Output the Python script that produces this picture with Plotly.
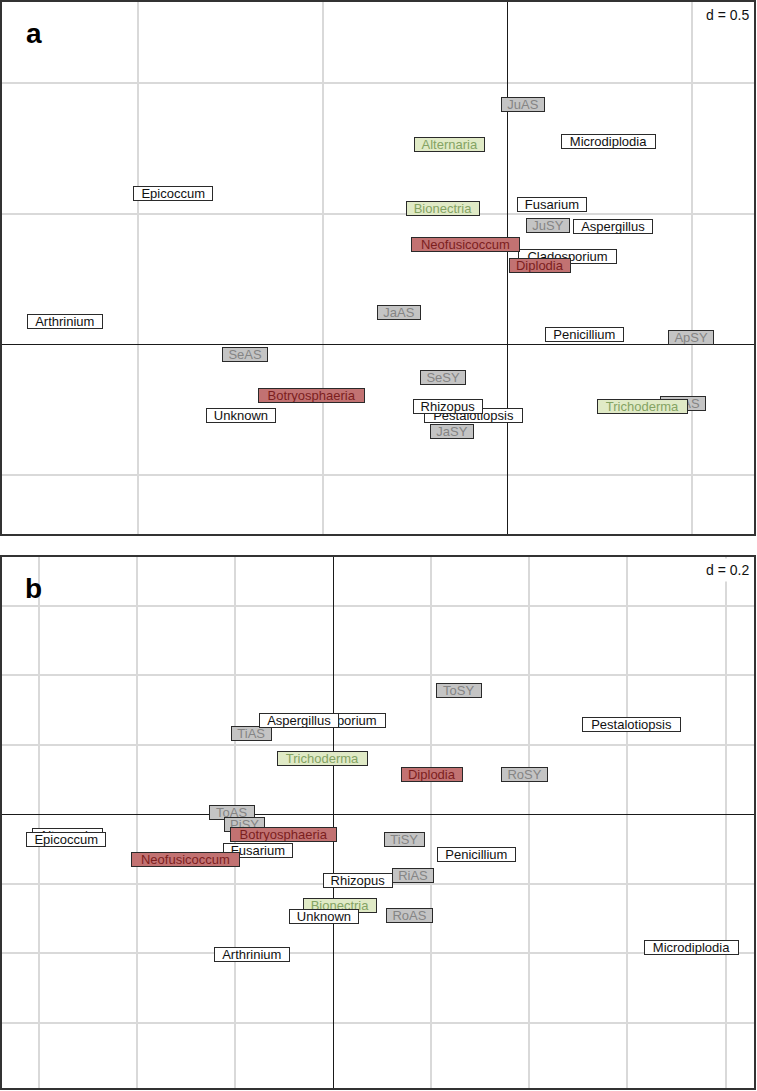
import plotly.graph_objects as go

# ---------------- Panel a (d = 0.5) ----------------
a_labels = ["JuAS", "JuSY", "JaAS", "JaSY", "SeAS", "SeSY", "ApSY", "ApAS",
            "Alternaria", "Bionectria", "Trichoderma",
            "Microdiplodia", "Epicoccum", "Fusarium", "Aspergillus", "Cladosporium",
            "Arthrinium", "Penicillium", "Unknown", "Pestalotiopsis", "Rhizopus",
            "Neofusicoccum", "Diplodia", "Botryosphaeria"]
a_x = [0.041, 0.111, -0.294, -0.150, -0.711, -0.174, 0.497, 0.477,
       -0.158, -0.174, 0.365,
       0.273, -0.905, 0.122, 0.287, 0.164,
       -1.198, 0.209, -0.722, -0.093, -0.162,
       -0.114, 0.089, -0.531]
a_y = [0.917, 0.457, 0.123, -0.332, -0.037, -0.127, 0.025, -0.228,
       0.767, 0.520, -0.239,
       0.778, 0.577, 0.537, 0.451, 0.336,
       0.088, 0.038, -0.273, -0.273, -0.239,
       0.381, 0.301, -0.195]
a_groups = ["sample"] * 8 + ["green"] * 3 + ["white"] * 10 + ["red"] * 3

# ---------------- Panel b (d = 0.2) ----------------
b_labels = ["ToSY", "TiAS", "RoSY", "ToAS", "PiSY", "TiSY", "RiAS", "RoAS",
            "Trichoderma", "Bionectria",
            "Alternaria", "Epicoccum", "Cladosporium", "Aspergillus", "Pestalotiopsis",
            "Fusarium", "Penicillium", "Rhizopus", "Unknown", "Arthrinium", "Microdiplodia",
            "Diplodia", "Botryosphaeria", "Neofusicoccum"]
b_x = [0.256, -0.166, 0.390, -0.207, -0.180, 0.145, 0.163, 0.156,
       -0.022, 0.015,
       -0.542, -0.545, 0.006, -0.069, 0.609,
       -0.152, 0.292, 0.051, -0.018, -0.165, 0.731,
       0.202, -0.101, -0.301]
b_y = [0.356, 0.232, 0.114, 0.005, -0.029, -0.072, -0.176, -0.290,
       0.162, -0.262,
       -0.060, -0.071, 0.270, 0.269, 0.259,
       -0.105, -0.116, -0.190, -0.294, -0.404, -0.384,
       0.115, -0.057, -0.130]
b_groups = ["sample"] * 8 + ["green"] * 2 + ["white"] * 11 + ["red"] * 3

STYLE = {
    "sample": dict(bg="#c4c4c4", fg="#858585"),
    "green": dict(bg="#e0eac6", fg="#84a363"),
    "white": dict(bg="#ffffff", fg="#111111"),
    "red": dict(bg="#c27272", fg="#7c1e1e"),
}

# Arial advance widths (per 1000 em) for box sizing
AW = dict(A=667, B=667, C=722, D=722, E=667, F=611, J=500, M=833, N=722, P=667,
          R=722, S=667, T=611, U=722, Y=667,
          a=556, b=556, c=500, d=556, e=556, f=278, g=556, h=556, i=222, j=222,
          k=500, l=222, m=833, n=556, o=556, p=556, q=556, r=333, s=500, t=278,
          u=556, v=500, w=722, x=500, y=500, z=500)


def box_width(txt):
    em = sum(AW.get(ch, 556) for ch in txt) / 1000.0
    return 14.6 * em + 7


W, H = 757, 1091
# panel pixel boxes (left, top, right, bottom)
PA = (2.4, 1.7, 754.0, 533.8)
PB = (2.4, 556.5, 754.0, 1088.2)


def dom(p):
    l, t, r, b = p
    return [l / W, r / W], [1 - b / H, 1 - t / H]

fig = go.Figure()
fig.add_trace(go.Scatter(x=a_x, y=a_y, mode="markers", marker=dict(size=1, opacity=0),
                         hoverinfo="skip", showlegend=False, xaxis="x", yaxis="y"))
fig.add_trace(go.Scatter(x=b_x, y=b_y, mode="markers", marker=dict(size=1, opacity=0),
                         hoverinfo="skip", showlegend=False, xaxis="x2", yaxis="y2"))

axis_common = dict(showgrid=True, gridcolor="#d9d9d9", gridwidth=1.5,
                   zeroline=True, zerolinecolor="#1a1a1a", zerolinewidth=1.2,
                   showline=True, mirror=True, linecolor="#333333", linewidth=1.5,
                   showticklabels=False, ticks="", tick0=0, fixedrange=True)

xa_dom, ya_dom = dom(PA)
xb_dom, yb_dom = dom(PB)

fig.update_layout(
    width=W, height=H, margin=dict(l=0, r=0, t=0, b=0),
    paper_bgcolor="white", plot_bgcolor="white",
    xaxis=dict(domain=xa_dom, range=[-1.368, 0.668], dtick=0.5, anchor="y", **axis_common),
    yaxis=dict(domain=ya_dom, range=[-0.725, 1.312], dtick=0.5, anchor="x", **axis_common),
    xaxis2=dict(domain=xb_dom, range=[-0.674, 0.858], dtick=0.2, anchor="y2", **axis_common),
    yaxis2=dict(domain=yb_dom, range=[-0.788, 0.742], dtick=0.2, anchor="x2", **axis_common),
)

annotations = []
for labels, xs, ys, groups, xr, yr in [(a_labels, a_x, a_y, a_groups, "x", "y"),
                                         (b_labels, b_x, b_y, b_groups, "x2", "y2")]:
    for g in ["sample", "green", "white", "red"]:
        for lab, xv, yv, gg in zip(labels, xs, ys, groups):
            if gg != g:
                continue
            st = STYLE[g]
            annotations.append(dict(
                x=xv, y=yv, xref=xr, yref=yr, text=lab, showarrow=False,
                xanchor="center", yanchor="middle",
                font=dict(family="Liberation Sans, Arial, sans-serif", size=13, color=st["fg"]),
                bgcolor=st["bg"], bordercolor="#2a2a2a", borderwidth=1, borderpad=0,
                width=box_width(lab), height=13,
            ))

# d labels
for txt, xr, yr in [("d = 0.5", "x domain", "y domain"), ("d = 0.2", "x2 domain", "y2 domain")]:
    annotations.append(dict(x=1, y=1, xref=xr, yref=yr, text=txt, showarrow=False,
                            xanchor="right", yanchor="top",
                            font=dict(family="Liberation Sans, Arial, sans-serif", size=14, color="#111111"),
                            bgcolor="white", borderpad=3, xshift=-1, yshift=-1))

# panel letters
for txt, xr, yr in [("a", "x domain", "y domain"), ("b", "x2 domain", "y2 domain")]:
    annotations.append(dict(x=0.042, y=0.94, xref=xr, yref=yr, text="<b>%s</b>" % txt,
                            showarrow=False, xanchor="center", yanchor="middle",
                            font=dict(family="Liberation Sans, Arial, sans-serif", size=28, color="black")))

fig.update_layout(annotations=annotations)
fig.write_html("out.html", config={"displayModeBar": False},
               post_script="document.body.style.margin='0px';document.body.style.overflow='hidden';")
